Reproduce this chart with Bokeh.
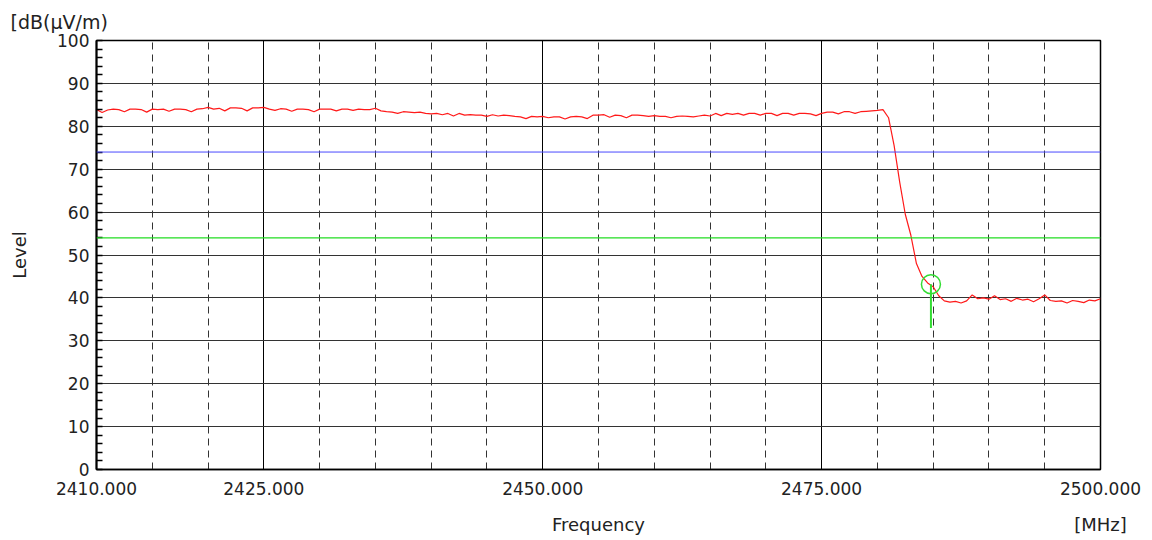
import numpy as np
from bokeh.plotting import figure
from bokeh.models import (FixedTicker, PrintfTickFormatter, Grid, Span,
                          ColumnDataSource, Range1d, LinearAxis)
from bokeh.embed import file_html
from bokeh.resources import INLINE

# ---- data ----
freq_start = 2410.0
freq_step = 0.5
level = [
    83.9, 83.2, 83.8, 84.0, 83.9, 83.4, 84.0, 84.0, 83.9, 83.3,
    84.0, 83.9, 84.0, 83.5, 84.0, 84.0, 83.9, 83.4, 84.0, 84.1,
    84.4, 84.0, 84.2, 83.6, 84.3, 84.3, 84.2, 83.6, 84.3, 84.3,
    84.4, 84.0, 83.7, 84.1, 84.0, 83.5, 84.0, 84.0, 83.9, 83.4,
    84.0, 84.0, 84.0, 83.6, 84.0, 84.0, 83.7, 84.0, 83.9, 83.9,
    84.2, 83.6, 83.4, 83.3, 83.0, 83.4, 83.3, 83.2, 83.3, 83.0,
    82.9, 83.0, 82.7, 83.0, 82.4, 83.0, 82.6, 82.7, 82.6, 82.6,
    82.3, 82.7, 82.4, 82.6, 82.5, 82.3, 82.2, 81.8, 82.3, 82.2,
    82.3, 82.0, 82.2, 82.2, 81.7, 82.2, 82.3, 82.2, 81.8, 82.6,
    82.6, 82.7, 82.1, 82.6, 82.5, 82.0, 82.6, 82.6, 82.5, 82.3,
    82.5, 82.3, 82.3, 82.0, 82.3, 82.4, 82.3, 82.2, 82.4, 82.6,
    82.4, 83.0, 82.5, 83.0, 82.8, 83.0, 82.6, 83.0, 83.0, 82.6,
    83.0, 83.0, 82.5, 83.0, 83.0, 82.6, 83.0, 83.0, 82.9, 82.5,
    83.0, 83.3, 83.3, 82.9, 83.4, 83.4, 83.0, 83.4, 83.5, 83.6,
    83.7, 83.9, 82.0, 75.5, 67.0, 59.5, 54.6, 48.0, 45.0, 43.5,
    42.6, 40.5, 39.3, 39.0, 39.2, 38.8, 39.3, 40.7, 39.8, 40.0,
    39.7, 40.5, 39.6, 39.8, 39.2, 39.9, 39.5, 39.7, 39.1, 39.8,
    40.7, 39.4, 39.2, 39.3, 38.8, 39.4, 39.2, 38.9, 39.5, 39.3,
    39.8,
]
freq = [freq_start + freq_step * i for i in range(len(level))]

limit_peak = 74.0
limit_avg = 54.0
marker_freq = 2484.8
marker_level = 43.2
marker_floor = 33.0

x_labels_at = [2410, 2425, 2450, 2475, 2500]
x_solid_grid = [2425, 2450, 2475]
x_dashed_grid = [2415, 2420, 2430, 2435, 2440, 2445, 2455, 2460, 2465, 2470,
                 2480, 2485, 2490, 2495]
y_ticks = list(range(0, 101, 10))
y_minor = list(range(0, 101, 2))
x_title_at = {2455: "Frequency", 2500: "[MHz]"}

FONT = "DejaVu Sans"
TXT = "#222222"

p = figure(width=1144, height=540, output_backend="svg", toolbar_location=None,
           x_range=Range1d(2410, 2500), y_range=Range1d(0, 100),
           min_border_left=96, min_border_right=44, min_border_top=39,
           min_border_bottom=71)
p.background_fill_color = "white"
p.border_fill_color = "white"
p.outline_line_color = "black"
p.outline_line_width = 1.5

# title (y unit) at top-left
p.title.text = "[dB(μV/m)"
p.title.align = "left"
p.title.offset = -86
p.title.standoff = 16
p.title.text_font = FONT
p.title.text_font_size = "19px"
p.title.text_font_style = "normal"
p.title.text_color = TXT

# x axis (tick labels)
p.xaxis.ticker = FixedTicker(ticks=x_labels_at)
p.xaxis.formatter = PrintfTickFormatter(format="%.3f")
p.xaxis.major_tick_in = 0
p.xaxis.major_tick_out = 0
p.xaxis.minor_tick_in = 0
p.xaxis.minor_tick_out = 0
p.xaxis.axis_line_color = "black"
p.xaxis.axis_line_width = 1.5
p.xaxis.major_label_text_font = FONT
p.xaxis.major_label_text_font_size = "17px"
p.xaxis.major_label_text_color = TXT
p.xaxis.major_label_standoff = 12

# second x axis carrying "Frequency" and "[MHz]"
ax2 = LinearAxis(ticker=FixedTicker(ticks=list(x_title_at.keys())),
                 major_label_overrides={k: v for k, v in x_title_at.items()},
                 axis_line_color=None, major_tick_in=0, major_tick_out=0,
                 minor_tick_in=0, minor_tick_out=0,
                 major_label_text_font=FONT, major_label_text_font_size="18px",
                 major_label_text_color=TXT, major_label_standoff=16)
p.add_layout(ax2, "below")

# y axis
p.yaxis.ticker = FixedTicker(ticks=y_ticks, minor_ticks=y_minor)
p.yaxis.major_tick_in = 0
p.yaxis.major_tick_out = 0
p.yaxis.minor_tick_in = 6
p.yaxis.minor_tick_out = 0
p.yaxis.minor_tick_line_color = "black"
p.yaxis.minor_tick_line_width = 1.5
p.yaxis.axis_line_color = "black"
p.yaxis.axis_line_width = 2
p.yaxis.major_label_text_font = FONT
p.yaxis.major_label_text_font_size = "17px"
p.yaxis.major_label_text_color = TXT
p.yaxis.major_label_standoff = 7
p.yaxis.axis_label = "Level"
p.yaxis.axis_label_text_font = FONT
p.yaxis.axis_label_text_font_size = "18px"
p.yaxis.axis_label_text_font_style = "normal"
p.yaxis.axis_label_text_color = TXT
p.yaxis.axis_label_standoff = 24

# grids
p.xgrid.ticker = FixedTicker(ticks=x_solid_grid)
p.xgrid.grid_line_color = "black"
p.xgrid.grid_line_width = 1
p.ygrid.ticker = FixedTicker(ticks=y_ticks[1:-1])
p.ygrid.grid_line_color = "#333333"
p.ygrid.grid_line_width = 1.2
dash_grid = Grid(dimension=0, ticker=FixedTicker(ticks=x_dashed_grid),
                 grid_line_color="#333333", grid_line_width=1,
                 grid_line_dash="7 5")
p.add_layout(dash_grid)

# limit lines
p.add_layout(Span(location=limit_peak, dimension="width", line_color="#4a4aff", line_width=1))
p.add_layout(Span(location=limit_avg, dimension="width", line_color="#22dd22", line_width=1.2))

# trace
src = ColumnDataSource(dict(f=freq, lv=level))
p.line("f", "lv", source=src, line_color="#ff1a1a", line_width=1.2)

# marker
p.segment(x0=[marker_freq], y0=[marker_level], x1=[marker_freq], y1=[marker_floor],
          line_color="#33dd33", line_width=2)
p.scatter(x=[marker_freq], y=[marker_level], size=19, marker="circle",
          fill_color=None, line_color="#33dd33", line_width=1.5)

open("out.html", "w").write(file_html(p, INLINE))
